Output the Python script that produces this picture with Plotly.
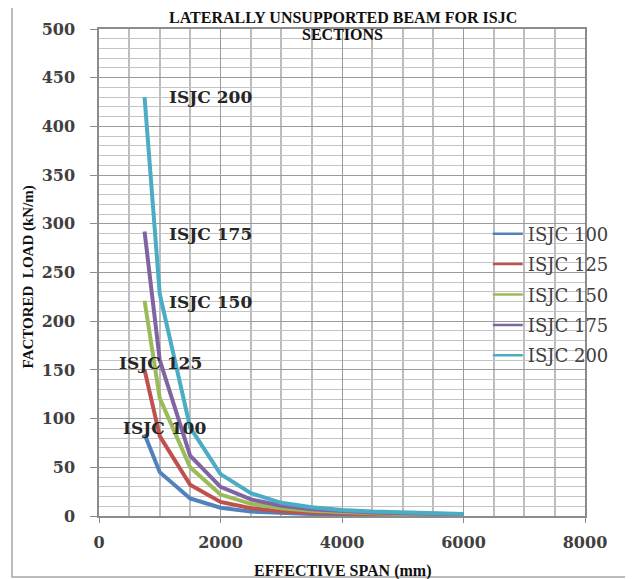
import plotly.graph_objects as go

span = [750, 1000, 1500, 2000, 2500, 3000, 3500, 4000, 4500, 5000, 5500, 6000]
isjc100 = [84, 45, 18, 8.5, 4.5, 2.8, 2.0, 1.4, 1.1, 0.9, 0.7, 0.6]
isjc125 = [150, 82, 32, 14.5, 8, 5, 3.4, 2.4, 1.8, 1.4, 1.1, 0.9]
isjc150 = [221, 121, 50, 22, 12.5, 8, 5.4, 3.8, 2.8, 2.1, 1.7, 1.3]
isjc175 = [292, 160, 62, 30, 17, 10.5, 7, 5, 3.7, 2.8, 2.2, 1.7]
isjc200 = [430, 228, 91, 43, 23.5, 13.5, 9, 6.2, 4.6, 3.5, 2.7, 2.1]

names = ["ISJC 100", "ISJC 125", "ISJC 150", "ISJC 175", "ISJC 200"]
series = [isjc100, isjc125, isjc150, isjc175, isjc200]
colors = ["#4F81BD", "#C0504D", "#9BBB59", "#8064A2", "#4BACC6"]

# label positions (data coords) for in-plot labels
label_x = [370, 300, 1120, 1120, 1120]
label_y = [90, 157, 220, 290, 430]

fig = go.Figure()
for n, s, c in zip(names, series, colors):
    fig.add_trace(go.Scatter(x=span, y=s, mode="lines", name=n,
                             line=dict(color=c, width=4), showlegend=False))
for n, c in zip(names, colors):
    fig.add_trace(go.Scatter(x=[None], y=[None], mode="lines", name=n,
                             line=dict(color=c, width=2.5), legendgroup=n))

serif = "DejaVu Serif"
for n, lx, ly in zip(names, label_x, label_y):
    fig.add_annotation(x=lx, y=ly, text=n, showarrow=False, xanchor="left",
                       yanchor="middle",
                       font=dict(family=serif, size=17, color="#262626", weight="bold"))

titlefont = dict(family="Liberation Serif", size=16, color="#111111", weight="bold")
fig.add_annotation(xref="paper", yref="paper", x=0.502, y=1.0246,
                   text="LATERALLY UNSUPPORTED BEAM FOR ISJC",
                   showarrow=False, xanchor="center", yanchor="middle", font=titlefont)
fig.add_annotation(xref="paper", yref="paper", x=0.502, y=0.9877,
                   text="SECTIONS",
                   showarrow=False, xanchor="center", yanchor="middle", font=titlefont)
fig.add_annotation(xref="paper", yref="paper", x=0.502, y=-0.113,
                   text="EFFECTIVE SPAN (mm)", showarrow=False,
                   xanchor="center", yanchor="middle",
                   font=dict(family="Liberation Serif", size=16, color="#111111", weight="bold"))
fig.add_annotation(xref="paper", yref="paper", x=-0.146, y=0.49,
                   text="FACTORED  LOAD (kN/m)", showarrow=False, textangle=-90,
                   xanchor="center", yanchor="middle",
                   font=dict(family="Liberation Serif", size=15, color="#111111", weight="bold"))

fig.add_shape(type="rect", xref="paper", yref="paper", x0=-0.179, x1=1.2, y0=-0.125, y1=1.045,
              line=dict(color="#a6a6a6", width=1.5))

tickfont = dict(family=serif, size=16, color="#404040", weight="bold")
fig.update_xaxes(range=[0, 8000], dtick=2000, tick0=0, showgrid=True, gridcolor="#9a9a9a",
                 gridwidth=1, minor=dict(dtick=500, showgrid=True, gridcolor="#bdbdbd", gridwidth=1.5),
                 showline=True, linecolor="#8c8c8c", linewidth=1.5, mirror=True,
                 ticks="outside", ticklen=5, tickcolor="#8c8c8c", tickfont=tickfont,
                 ticklabelstandoff=6, zeroline=False)
fig.update_yaxes(range=[0, 500], dtick=50, tick0=0, showgrid=True, gridcolor="#9a9a9a",
                 gridwidth=1, minor=dict(dtick=10, showgrid=True, gridcolor="#c4c4c4", gridwidth=1),
                 showline=True, linecolor="#8c8c8c", linewidth=1.5, mirror=True,
                 ticks="outside", ticklen=7, tickcolor="#8c8c8c", tickfont=tickfont,
                 ticklabelstandoff=12, zeroline=False)

fig.update_layout(width=625, height=571, margin=dict(l=91, r=48, t=21, b=63),
                  paper_bgcolor="white", plot_bgcolor="white",
                  legend=dict(x=0.80, y=0.617, xanchor="left", yanchor="top",
                              bgcolor="rgba(0,0,0,0)", tracegroupgap=4,
                              font=dict(family=serif, size=18, color="#404040")))

fig.write_html("out.html")
